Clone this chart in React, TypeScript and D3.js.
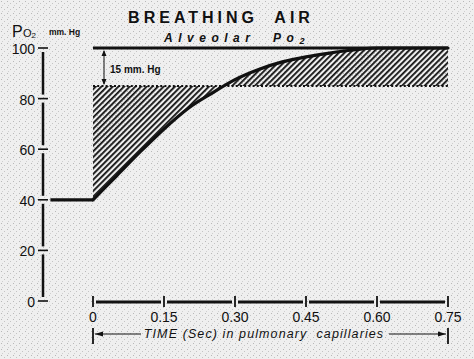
import React from "react";
import * as d3 from "d3";

const times = [-0.09, 0, 0.05, 0.1, 0.15, 0.2, 0.25, 0.3, 0.35, 0.4, 0.45, 0.5, 0.55, 0.6, 0.65, 0.75];
const po2 = [40, 40, 49.5, 59, 68, 76, 82, 87.5, 91.5, 94.5, 96.5, 98, 99.2, 100, 100, 100];
const alveolar = 100;
const gapLevel = 85;
const yTicks = [0, 20, 40, 60, 80, 100];
const xTicks = [0, 0.15, 0.3, 0.45, 0.6, 0.75];
const xTickLabels = ["0", "0.15", "0.30", "0.45", "0.60", "0.75"];

const W = 474, H = 359;

type P = { t: number; v: number };

export default function App() {
  const x = d3.scaleLinear().domain([0, 0.75]).range([93, 448]);
  const y = d3.scaleLinear().domain([0, 100]).range([301, 48]);

  const pts: P[] = times.map((t, i) => ({ t, v: po2[i] }));
  const flatPts = pts.filter(d => d.t <= 0);
  const risePts = pts.filter(d => d.t >= 0);
  const straight = d3.line<P>().x(d => x(d.t)).y(d => y(d.v));
  const curve = d3.line<P>().x(d => x(d.t)).y(d => y(d.v)).curve(d3.curveMonotoneX);
  const area = d3.area<P>().x(d => x(d.t)).y0(y(gapLevel)).y1(d => y(d.v)).curve(d3.curveMonotoneX);

  const axisX = 43;
  const axisY = 302;
  const font = "'Liberation Sans', Arial, sans-serif";

  const ySegs: [number, number][] = [];
  for (let i = 0; i < yTicks.length - 1; i++) ySegs.push([y(yTicks[i]) - 4, y(yTicks[i + 1]) + 4]);
  const xSegs: [number, number][] = [];
  for (let i = 0; i < xTicks.length - 1; i++) xSegs.push([x(xTicks[i]) + 3, x(xTicks[i + 1]) - 3]);

  return (
    <svg width={W} height={H} style={{ position: "absolute", left: 0, top: 0 }}>
      <defs>
        <pattern id="hatch" patternUnits="userSpaceOnUse" width={4} height={4} patternTransform="rotate(45)">
          <rect x={0} y={0} width={1.8} height={4} fill="#111" />
        </pattern>
        <pattern id="grain" patternUnits="userSpaceOnUse" width={6} height={6}>
          <rect width={6} height={6} fill="#efefef" />
          <rect x={1} y={1} width={1} height={1} fill="#b8b8b8" />
          <rect x={4} y={3} width={1} height={1} fill="#c4c4c4" />
          <rect x={2} y={5} width={1} height={1} fill="#cfcfcf" />
        </pattern>
      </defs>
      <rect width={W} height={H} fill="url(#grain)" />

      {/* title */}
      <text x={221} y={23} textAnchor="middle" fontFamily={font} fontSize={16} fontWeight="bold" letterSpacing={4} fill="#111" style={{ whiteSpace: "pre" }}>BREATHING  AIR</text>
      <text x={237} y={42} textAnchor="middle" fontFamily={font} fontSize={12} fontWeight="bold" fontStyle="italic" letterSpacing={5.5} fill="#111" style={{ whiteSpace: "pre" }}>
        Alveolar  Po<tspan fontSize={9} dy={2}>2</tspan>
      </text>

      {/* y label */}
      <text x={12} y={37} fontFamily={font} fontSize={16} fill="#111">P</text>
      <text x={23} y={37} fontFamily={font} fontSize={11} fill="#111">O<tspan fontSize={8} dy={1}>2</tspan></text>
      <text x={49} y={35} fontFamily={font} fontSize={8.5} fontWeight="bold" fill="#111">mm. Hg</text>

      {/* y axis */}
      {ySegs.map(([a, b], i) => (
        <line key={"ys" + i} x1={axisX} x2={axisX} y1={a} y2={b} stroke="#111" strokeWidth={2.5} />
      ))}
      {yTicks.map(v => (
        <g key={"yt" + v}>
          <line x1={axisX - 5} x2={axisX + 5} y1={y(v)} y2={y(v)} stroke="#111" strokeWidth={1.6} />
          <text x={axisX - 8} y={y(v) + 6} textAnchor="end" fontFamily={font} fontSize={14} fill="#111">{v}</text>
        </g>
      ))}

      {/* x axis */}
      {xSegs.map(([a, b], i) => (
        <line key={"xs" + i} x1={a} x2={b} y1={axisY} y2={axisY} stroke="#111" strokeWidth={3} />
      ))}
      {xTicks.map((t, i) => (
        <g key={"xt" + i}>
          <line x1={x(t)} x2={x(t)} y1={axisY - 6} y2={axisY + 5} stroke="#111" strokeWidth={1.8} />
          <text x={x(t)} y={322} textAnchor="middle" fontFamily={font} fontSize={14} fill="#111">{xTickLabels[i]}</text>
        </g>
      ))}

      {/* time label with arrows */}
      <line x1={x(0)} x2={x(0)} y1={328} y2={344} stroke="#111" strokeWidth={1.8} />
      <line x1={x(0.75)} x2={x(0.75)} y1={328} y2={344} stroke="#111" strokeWidth={1.8} />
      <line x1={x(0) + 2} x2={141} y1={334} y2={334} stroke="#111" strokeWidth={1} />
      <path d={`M${x(0) + 2},334 l8,-2.5 l0,5 z`} fill="#111" />
      <line x1={389} x2={x(0.75) - 2} y1={334} y2={334} stroke="#111" strokeWidth={1} />
      <path d={`M${x(0.75) - 2},334 l-8,-2.5 l0,5 z`} fill="#111" />
      <text x={264} y={338} textAnchor="middle" fontFamily={font} fontSize={12.5} fontStyle="italic" letterSpacing={1.1} fill="#111" style={{ whiteSpace: "pre" }}>TIME (Sec) in pulmonary  capillaries</text>

      {/* hatched gap */}
      <path d={area(risePts) || ""} fill="url(#hatch)" />

      {/* dotted 85 line */}
      <line x1={x(0)} x2={x(0.75)} y1={y(gapLevel)} y2={y(gapLevel)} stroke="#111" strokeWidth={2} strokeDasharray="2 2.2" />

      {/* alveolar line */}
      <line x1={x(0)} x2={x(0.75)} y1={y(alveolar)} y2={y(alveolar)} stroke="#111" strokeWidth={2.8} />

      {/* capillary curve */}
      <path d={straight(flatPts) || ""} fill="none" stroke="#111" strokeWidth={3.2} strokeLinejoin="round" />
      <path d={curve(risePts) || ""} fill="none" stroke="#111" strokeWidth={3.2} strokeLinejoin="round" strokeLinecap="round" />

      {/* 15 mm Hg annotation */}
      <line x1={104} x2={104} y1={y(alveolar) + 3} y2={y(gapLevel) - 2} stroke="#111" strokeWidth={1} />
      <path d={`M104,${y(alveolar) + 2} l-2.5,6 l5,0 z`} fill="#111" />
      <path d={`M104,${y(gapLevel) - 1} l-2.5,-6 l5,0 z`} fill="#111" />
      <text x={110} y={73} fontFamily={font} fontSize={10} fontWeight="bold" fill="#111">15 mm. Hg</text>
    </svg>
  );
}
